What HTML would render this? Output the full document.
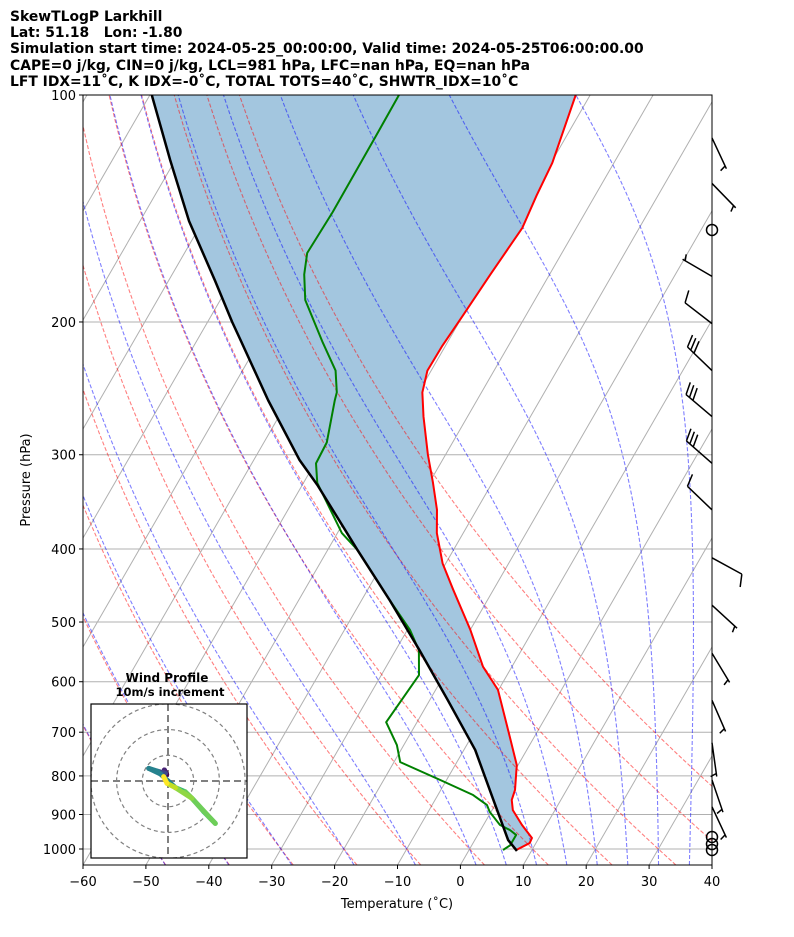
<!DOCTYPE html>
<html><head><meta charset="utf-8"><title>SkewT Larkhill</title>
<style>
html,body{margin:0;padding:0;background:#fff;}
svg{display:block;font-family:"DejaVu Sans","Liberation Sans",sans-serif;}
</style></head>
<body>
<svg id="chart" width="794" height="937" viewBox="0 0 794 937" xmlns="http://www.w3.org/2000/svg">
<defs><clipPath id="plotclip"><rect x="83" y="95" width="629" height="770"/></clipPath>
<clipPath id="hodoclip"><rect x="91" y="704" width="156" height="154"/></clipPath></defs>
<g font-weight="bold" font-size="13.9" fill="#000" style="white-space:pre">
<text x="10" y="21">SkewTLogP Larkhill</text>
<text x="10" y="37" xml:space="preserve">Lat: 51.18   Lon: -1.80</text>
<text x="10" y="53">Simulation start time: 2024-05-25_00:00:00, Valid time: 2024-05-25T06:00:00.00</text>
<text x="10" y="70">CAPE=0 j/kg, CIN=0 j/kg, LCL=981 hPa, LFC=nan hPa, EQ=nan hPa</text>
<text x="10" y="86">LFT IDX=11˚C, K IDX=-0˚C, TOTAL TOTS=40˚C, SHWTR_IDX=10˚C</text>
</g>
<g id="plot" clip-path="url(#plotclip)"></g>
<g id="axes"></g>
<g id="barbs"></g>
<g id="hodo"></g>
</svg>
<script>
// ---- data ----
const tempP=[1003,982,967,929,888,861,835,774,710,615,573,512,453,418,381,355,327,300,267,248,232,215,196,173,150,136,123,100];
const tempT=[7.5,9.0,8.9,6.1,3.3,2.2,1.8,-0.2,-3.9,-10.1,-14.6,-20.0,-26.4,-30.5,-34.2,-36.3,-39.4,-42.8,-47.0,-49.4,-50.6,-50.5,-50.0,-49.4,-48.6,-49.3,-49.8,-52.3];
const dewP=[1003,989,958,944,929,893,874,848,810,767,728,679,588,545,512,468,401,381,327,308,289,254,248,232,213,187,173,162,143,114,100];
const dewT=[5.4,6.1,6.1,4.7,2.6,-0.2,-1.3,-4.4,-11.0,-19.0,-21.1,-24.9,-24.0,-26.3,-29.6,-35.5,-45.3,-49.3,-57.8,-59.8,-60.0,-62.6,-63.0,-65.2,-69.8,-76.5,-79.0,-80.5,-80.2,-80.3,-80.4];
const parcelP=[1006,973,856,739,635,545,468,401,329,305,254,211,200,176,147,122,100];
const parcelT=[7.7,5.3,-1.0,-8.2,-17.1,-26.2,-35.5,-45.3,-57.6,-62.7,-73.2,-83.2,-86.1,-92.7,-102.2,-110.8,-119.7];
const barbP=[114,131,151,174,201,232,267,308,355,411,475,550,635,723,810,879,964,985,1003];
const barbU=[-2.1,-3.5,0,4.3,7.9,21.6,22.9,22.5,7.2,-8.8,-3.7,-2.6,-2.0,-0.7,-1.6,-2.1,0,0,0];
const barbV=[4.5,3.6,0,-2.5,-6.1,-20.8,-19.4,-19.8,-6.9,4.8,3.4,4.3,4.6,5.0,4.7,4.5,0,0,0];
const hodoU=[-0.5,-1.4,-1.0,-4.0,-7.5,-3.0,2.9,6.7,9.3,13.9,18.4,9.3,2.9,-0.4,-1.7];
const hodoV=[2.5,4.3,3.0,3.8,4.9,2.8,-2.6,-4.2,-6.7,-11.9,-16.5,-6.7,-2.6,-0.9,1.7];
const xTicks=[-60,-50,-40,-30,-20,-10,0,10,20,30,40];
const pTicks=[100,200,300,400,500,600,700,800,900,1000];
const dryT0=[-50,-40,-30,-20,-10,0,10,20,30,40,50];
const moistT0=[-50,-40,-30,-20,-10,0,5,10,15,20,25,30,35];

// ---- scales ----
const NS="http://www.w3.org/2000/svg";
function yP(p){return 95+(Math.log10(p)-2)*754;}
function xT(T,p){return 83+(T+60)*6.29+0.577*(865-yP(p));}
function mk(tag,parent){const e=document.createElementNS(NS,tag);parent.appendChild(e);return e;}
function pathFrom(P,T){let d="";for(let i=0;i<P.length;i++){d+=(i?"L":"M")+xT(T[i],P[i]).toFixed(2)+","+yP(P[i]).toFixed(2);}return d;}
const plot=document.getElementById('plot');
const axes=document.getElementById('axes');

for(let T=-130;T<=40;T+=10){
  const l=mk('line',plot);
  
  
  l.setAttribute('x1',xT(T,1050));l.setAttribute('y1',yP(1050));
  l.setAttribute('x2',xT(T,100));l.setAttribute('y2',yP(100));
  l.setAttribute('stroke','#b0b0b0');l.setAttribute('stroke-width','1');
}
pTicks.forEach(p=>{
  const l=mk('line',plot);
  
  
  l.setAttribute('x1',83);l.setAttribute('x2',712);l.setAttribute('y1',yP(p));l.setAttribute('y2',yP(p));
  l.setAttribute('stroke','#b0b0b0');l.setAttribute('stroke-width','1');
});
{
  let d="";
  for(let i=0;i<tempP.length;i++){d+=(i?"L":"M")+xT(tempT[i],tempP[i]).toFixed(2)+","+yP(tempP[i]).toFixed(2);}
  for(let i=parcelP.length-1;i>=0;i--){d+="L"+xT(parcelT[i],parcelP[i]).toFixed(2)+","+yP(parcelP[i]).toFixed(2);}
  d+="Z";
  const f=mk('path',plot);
  
  
  f.setAttribute('d',d);f.setAttribute('fill','#a3c6df');f.setAttribute('stroke','none');
}
const levels=[];for(let p=1050;p>=100;p-=10)levels.push(p);
dryT0.forEach(t0=>{
  const P=levels,T=P.map(p=>(t0+273.15)*Math.pow(p/1000,0.2857)-273.15);
  const e=mk('path',plot);
  
  
  e.setAttribute('d',pathFrom(P,T));e.setAttribute('fill','none');
  e.setAttribute('stroke','#ff0000');e.setAttribute('stroke-opacity','0.5');e.setAttribute('stroke-width','1.1');e.setAttribute('stroke-dasharray','4,2');
});
function lapse(p,T){const Rd=287.04,Cp=1005.7,Lv=2.501e6,eps=0.622;
  const es=6.112*Math.exp(17.67*(T-273.15)/(T-29.65));const rs=eps*es/(p-es);
  return (Rd*T+Lv*rs)/(Cp+Lv*Lv*rs*eps/(Rd*T*T))/p;}
function integ(T0,p0,p1,dp){const P=[p0],T=[T0];let p=p0,t=T0;
  while((dp<0&&p>p1)||(dp>0&&p<p1)){const k1=lapse(p,t),k2=lapse(p+dp/2,t+k1*dp/2),k3=lapse(p+dp/2,t+k2*dp/2),k4=lapse(p+dp,t+k3*dp);
  t+=dp*(k1+2*k2+2*k3+k4)/6;p+=dp;P.push(p);T.push(t);}return [P,T];}
moistT0.forEach(t0=>{
  const up=integ(t0+273.15,1000,100,-5),dn=integ(t0+273.15,1000,1050,5);
  const P=dn[0].slice().reverse().concat(up[0].slice(1)),T=dn[1].slice().reverse().concat(up[1].slice(1)).map(v=>v-273.15);
  const e=mk('path',plot);
  
  
  e.setAttribute('d',pathFrom(P,T));e.setAttribute('fill','none');
  e.setAttribute('stroke','#0000ff');e.setAttribute('stroke-opacity','0.5');e.setAttribute('stroke-width','1.1');e.setAttribute('stroke-dasharray','4,2');
});
function prof(P,T,col,w,name){const e=mk('path',plot);
  
  
  e.setAttribute('d',pathFrom(P,T));e.setAttribute('fill','none');e.setAttribute('stroke',col);e.setAttribute('stroke-width',w);e.setAttribute('stroke-linejoin','round');}
prof(tempP,tempT,'#ff0000',2,'temperature-line');
prof(dewP,dewT,'#008000',2,'dewpoint-line');
prof(parcelP,parcelT,'#000000',2.5,'parcel-line');

{
  const r=mk('rect',axes);
  
  
  r.setAttribute('x',83);r.setAttribute('y',95);r.setAttribute('width',629);r.setAttribute('height',770);
  r.setAttribute('fill','none');r.setAttribute('stroke','#000');r.setAttribute('stroke-width','1');
}
xTicks.forEach(T=>{
  const x=83+(T+60)*6.29;
  const l=mk('line',axes);
  
  
  l.setAttribute('x1',x);l.setAttribute('x2',x);l.setAttribute('y1',865);l.setAttribute('y2',869);l.setAttribute('stroke','#000');
  const t=mk('text',axes);
  
  
  t.setAttribute('x',x);t.setAttribute('y',886);t.setAttribute('text-anchor','middle');t.setAttribute('font-size','13');
  t.textContent=(T<0?'\u2212'+(-T):String(T));
});
pTicks.forEach(p=>{
  const y=yP(p);
  const l=mk('line',axes);
  
  
  l.setAttribute('x1',79);l.setAttribute('x2',83);l.setAttribute('y1',y);l.setAttribute('y2',y);l.setAttribute('stroke','#000');
  const t=mk('text',axes);
  
  
  t.setAttribute('x',76);t.setAttribute('y',y+5);t.setAttribute('text-anchor','end');t.setAttribute('font-size','13');
  t.textContent=String(p);
});
{
  const t=mk('text',axes);
  
  
  t.setAttribute('x',397);t.setAttribute('y',908);t.setAttribute('text-anchor','middle');t.setAttribute('font-size','13');
  t.textContent='Temperature (˚C)';
  const t2=mk('text',axes);
  
  
  t2.setAttribute('transform','translate(30,480) rotate(-90)');t2.setAttribute('text-anchor','middle');t2.setAttribute('font-size','13');
  t2.textContent='Pressure (hPa)';
}
const barbs=document.getElementById('barbs');
for(let i=0;i<barbP.length;i++){
  const u=barbU[i],v=barbV[i],s=Math.hypot(u,v),x0=712,y0=yP(barbP[i]);
  const g=mk('g',barbs);
  
  
  g.setAttribute('stroke','#000');g.setAttribute('stroke-width','1.5');g.setAttribute('fill','none');
  if(s<2.5){const c=mk('circle',g);c.setAttribute('cx',x0);c.setAttribute('cy',y0);c.setAttribute('r',5.5);continue;}
  const dx=-u/s,dy=v/s,L=34;
  const ex=x0+dx*L,ey=y0+dy*L;
  let d=`M${x0},${y0}L${ex},${ey}`;
  const px=-dy,py=dx;
  let rem=Math.round(s/5)*5,pos=0;
  const full=Math.floor(rem/10),half=(rem%10)>=5?1:0;
  for(let k=0;k<full;k++){const bx=ex-dx*pos,by=ey-dy*pos;
    d+=`M${bx},${by}L${bx+13*(0.93*px+0.36*dx)},${by+13*(0.93*py+0.36*dy)}`;pos+=4.5;}
  if(half){if(full===0)pos=3;const bx=ex-dx*pos,by=ey-dy*pos;
    d+=`M${bx},${by}L${bx+6.5*(0.93*px+0.36*dx)},${by+6.5*(0.93*py+0.36*dy)}`;}
  const pth=mk('path',g);pth.setAttribute('d',d);
}
const hodo=document.getElementById('hodo');
{
  const cx=168,cy=781,k=2.57;
  const bg=mk('rect',hodo);
  
  
  bg.setAttribute('x',91);bg.setAttribute('y',704);bg.setAttribute('width',156);bg.setAttribute('height',154);bg.setAttribute('fill','#fff');bg.setAttribute('stroke','none');
  const gg=mk('g',hodo);gg.setAttribute('clip-path','url(#hodoclip)');
  [10,20,30].forEach(r=>{const c=mk('circle',gg);
    
    
    c.setAttribute('cx',cx);c.setAttribute('cy',cy);c.setAttribute('r',r*k);c.setAttribute('fill','none');c.setAttribute('stroke','#808080');c.setAttribute('stroke-width','1.2');c.setAttribute('stroke-dasharray','4,3');});
  const h=mk('path',gg);
  
  
  h.setAttribute('d',`M91,${cy}H247M${cx},704V858`);h.setAttribute('stroke','#808080');h.setAttribute('stroke-width','2');h.setAttribute('stroke-dasharray','7,4');
  const segCol=['#440154','#482475','#3e4a89','#26828e','#26828e','#26828e','#35b779','#6ece58','#5ec962','#3dbc74','#6ece58','#90d743','#c2df23','#fde725'];
  for(let i=0;i<hodoU.length-1;i++){
    const l=mk('line',gg);
    
    
    l.setAttribute('x1',cx+hodoU[i]*k);l.setAttribute('y1',cy-hodoV[i]*k);
    l.setAttribute('x2',cx+hodoU[i+1]*k);l.setAttribute('y2',cy-hodoV[i+1]*k);
    l.setAttribute('stroke',segCol[i%segCol.length]);l.setAttribute('stroke-width','5');l.setAttribute('stroke-linecap','round');
  }
  const fr=mk('rect',hodo);
  
  
  fr.setAttribute('x',91);fr.setAttribute('y',704);fr.setAttribute('width',156);fr.setAttribute('height',154);fr.setAttribute('fill','none');fr.setAttribute('stroke','#000');fr.setAttribute('stroke-width','1.2');
  const t1=mk('text',hodo);
  
  
  t1.setAttribute('x',167);t1.setAttribute('y',682);t1.setAttribute('text-anchor','middle');t1.setAttribute('font-size','12');t1.setAttribute('font-weight','bold');
  t1.textContent='Wind Profile';
  const t2=mk('text',hodo);
  
  
  t2.setAttribute('x',170);t2.setAttribute('y',696);t2.setAttribute('text-anchor','middle');t2.setAttribute('font-size','11.5');t2.setAttribute('font-weight','bold');
  t2.textContent='10m/s increment';
}
</script>
</body></html>
